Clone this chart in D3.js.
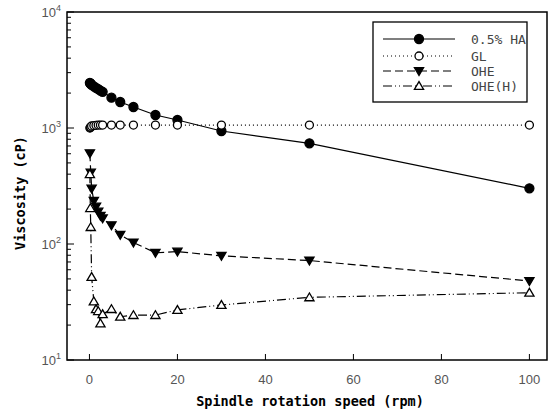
<!DOCTYPE html>
<html><head><meta charset="utf-8">
<script src="https://cdn.jsdelivr.net/npm/d3@7"></script>
<style>body{margin:0;background:#fff}svg{display:block}</style>
</head><body>
<svg id="c" width="552" height="414"></svg>
<script>
const rpm = [0.1,0.2,0.3,0.5,1,1.5,2,2.5,3,5,7,10,15,20,30,50,100];
const ha   = [2450,2420,2400,2350,2280,2220,2160,2100,2050,1825,1675,1517,1294,1172,942,738,302];
const gl   = [1000,1010,1020,1040,1050,1055,1060,1060,1060,1060,1060,1060,1060,1060,1060,1060,1060];
const ohe  = [605,null,412,300,235,210,190,175,166,145,120,103,84,86,79,72,48];
const oheH = [400,204,140,52,32,27.4,26.4,20.7,24.8,27.5,23.6,24.4,24.4,27,29.8,34.7,38];
const seriesNames = ["0.5% HA","GL","OHE","OHE(H)"];
const xTicks = [0,20,40,60,80,100];
const yTicks = [10,100,1000,10000];

const svg = d3.select("#c");
const L=67,R=547,T=12,B=360;
const x = d3.scaleLinear().domain([-5.1,104]).range([L,R]);
const y = d3.scaleLog().domain([10,10000]).range([B,T]);

const styles = [
  {data:ha,  dash:null,        marker:"circle",  fill:"#000"},
  {data:gl,  dash:"1,3",       marker:"circle",  fill:"#fff"},
  {data:ohe, dash:"8,4",       marker:"tdown",   fill:"#000"},
  {data:oheH,dash:"9,3,1,3,1,3",marker:"tup",    fill:"#fff"}
];

function marker(g, type, fill, cx, cy){
  if(type==="circle"){
    g.append("circle").attr("cx",cx).attr("cy",cy).attr("r",fill==="#000"?4.5:4)
      .attr("fill",fill).attr("stroke","#000").attr("stroke-width",1.3);
  } else {
    const s=4.6;
    const pts = type==="tdown"
      ? [[cx-s,cy-s*0.75],[cx+s,cy-s*0.75],[cx,cy+s*0.95]]
      : [[cx-s,cy+s*0.75],[cx+s,cy+s*0.75],[cx,cy-s*0.95]];
    g.append("path").attr("d","M"+pts.map(p=>p.join(",")).join("L")+"Z")
      .attr("fill",fill).attr("stroke","#000").attr("stroke-width",1.3);
  }
}

// axes ticks (inward)
const ax = svg.append("g");
xTicks.forEach(t=>{
  ax.append("line").attr("x1",x(t)).attr("x2",x(t)).attr("y1",B).attr("y2",B-6)
    .attr("stroke","#000").attr("stroke-width",1);
  ax.append("text").attr("x",x(t)).attr("y",B+24).attr("text-anchor","middle")
    .attr("font-family","Liberation Sans, Arial, sans-serif").attr("font-size",13)
    .attr("fill","#555").text(t);
});
const minor=[];
for(let d=10; d<10000; d*=10) for(let k=2;k<=9;k++) minor.push(d*k);
minor.forEach(v=>{
  ax.append("line").attr("x1",L).attr("x2",L+4).attr("y1",y(v)).attr("y2",y(v))
    .attr("stroke","#000").attr("stroke-width",1);
});
yTicks.forEach(v=>{
  ax.append("line").attr("x1",L).attr("x2",L+7).attr("y1",y(v)).attr("y2",y(v))
    .attr("stroke","#000").attr("stroke-width",1);
  const tx = ax.append("text").attr("x",L-6).attr("y",y(v)+5).attr("text-anchor","end")
    .attr("font-family","Liberation Sans, Arial, sans-serif").attr("font-size",13).attr("fill","#555");
  tx.append("tspan").text("10");
  tx.append("tspan").attr("dy",-6).attr("font-size",9).text(Math.round(Math.log10(v)));
});

// series
styles.forEach((s,i)=>{
  const pts = s.data.map((d,j)=>[rpm[j],d]).filter(p=>p[1]!=null);
  const line = d3.line().x(p=>x(p[0])).y(p=>y(p[1]));
  const p = svg.append("path").datum(pts).attr("d",line).attr("fill","none")
    .attr("stroke","#000").attr("stroke-width",1.2);
  if(s.dash) p.attr("stroke-dasharray",s.dash);
});
styles.forEach((s,i)=>{
  const g=svg.append("g");
  s.data.forEach((d,j)=>{ if(d!=null) marker(g,s.marker,s.fill,x(rpm[j]),y(d)); });
});

// frame
svg.append("rect").attr("x",L).attr("y",T).attr("width",R-L).attr("height",B-T)
  .attr("fill","none").attr("stroke","#000").attr("stroke-width",1.5);

// legend
const lg = svg.append("g");
lg.append("rect").attr("x",373).attr("y",22).attr("width",154).attr("height",80)
  .attr("fill","#fff").attr("stroke","#000").attr("stroke-width",1.3);
const rowsY=[39,56,71,86];
styles.forEach((s,i)=>{
  const ln = lg.append("line").attr("x1",383).attr("x2",455).attr("y1",rowsY[i]).attr("y2",rowsY[i])
    .attr("stroke","#000").attr("stroke-width",1.2);
  if(s.dash) ln.attr("stroke-dasharray",s.dash);
  marker(lg,s.marker,s.fill,419,rowsY[i]);
  lg.append("text").attr("x",471).attr("y",rowsY[i]+5)
    .attr("font-family","DejaVu Sans Mono, monospace").attr("font-size",13).attr("fill","#444")
    .text(seriesNames[i]);
});

// axis titles
svg.append("text").attr("x",(L+R)/2+3).attr("y",406).attr("text-anchor","middle")
  .attr("font-family","DejaVu Sans Mono, monospace").attr("font-weight","bold").attr("font-size",13.5)
  .attr("fill","#000").text("Spindle rotation speed (rpm)");
svg.append("text").attr("transform","translate(25,"+((T+B)/2+7)+") rotate(-90)").attr("text-anchor","middle")
  .attr("font-family","DejaVu Sans Mono, monospace").attr("font-weight","bold").attr("font-size",13.5)
  .attr("fill","#000").text("Viscosity (cP)");
</script>
</body></html>
